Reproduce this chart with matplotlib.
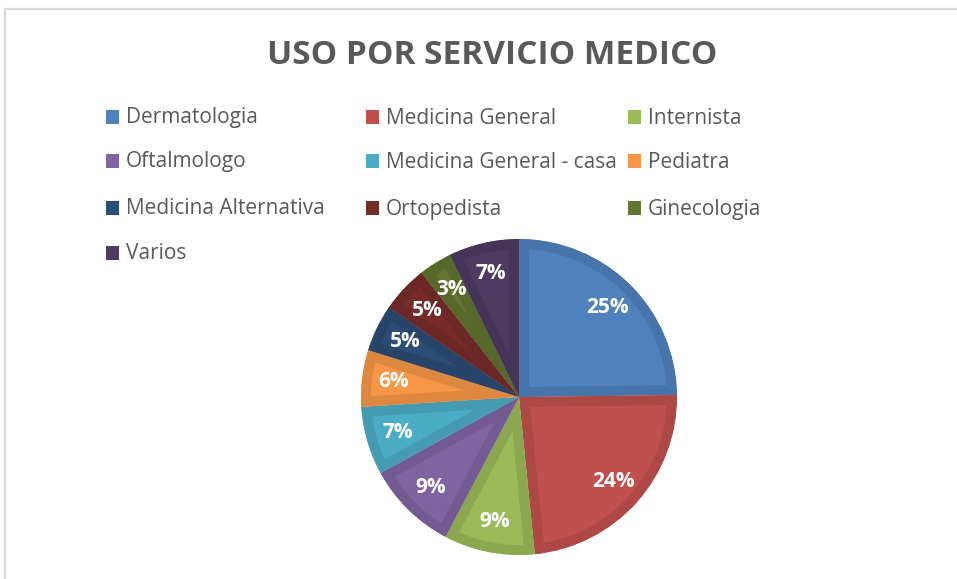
import matplotlib
matplotlib.use('Agg')
import matplotlib.pyplot as plt
from matplotlib.patches import Rectangle
from matplotlib.colors import to_rgb

# datos (porcentaje aproximado por servicio)
servicios = ['Dermatologia', 'Medicina General', 'Internista',
             'Oftalmologo', 'Medicina General - casa', 'Pediatra',
             'Medicina Alternativa', 'Ortopedista', 'Ginecologia', 'Varios']
valores = [24.8, 23.6, 9.3, 9.3, 7.0, 5.8, 4.8, 4.8, 3.4, 7.2]
colores = ['#4F81BD', '#C0504D', '#9BBB59', '#8064A2', '#4BACC6',
           '#F79646', '#2C4D75', '#772C2A', '#5F7530', '#4D3B62']
titulo = 'USO POR SERVICIO MEDICO'

W, H, DPI = 957, 579, 100
plt.rcParams['font.family'] = ['Open Sans', 'DejaVu Sans']

fig = plt.figure(figsize=(W / DPI, H / DPI), dpi=DPI)

# marco gris del area del grafico (solo se ven el borde izq. y el superior)
fig.patches.append(Rectangle((4.5 / W, -0.1), 1.2, 1.1 - 9.5 / H,
                             transform=fig.transFigure, fill=False,
                             edgecolor='#D9D9D9', linewidth=1.6))

fig.text(492 / W, 1 - 55 / H, titulo, ha='center', va='center',
         fontsize=24, fontweight='bold', color='#595959')

# leyenda en 3 columnas con ancho fijo
col_x = [106, 366, 628]
row_y = [117, 161, 208, 253]
for i, (nombre, c) in enumerate(zip(servicios, colores)):
    x = col_x[i % 3]
    y = row_y[i // 3]
    fig.patches.append(Rectangle((x / W, 1 - (y + 6.5) / H), 13 / W, 13 / H,
                                 transform=fig.transFigure, facecolor=c,
                                 edgecolor='none'))
    fig.text((x + 20) / W, 1 - (y + 1) / H, nombre, ha='left', va='center',
             fontsize=15, color='#595959')

# pastel
cx, cy, r = 519, 397, 158
ax = fig.add_axes([(cx - r) / W, (H - cy - r) / H, 2 * r / W, 2 * r / H])
wedges, textos, pcts = ax.pie(valores, colors=colores, startangle=90,
                              counterclock=False, autopct='%.0f%%',
                              pctdistance=0.8,
                              textprops=dict(color='white', fontweight='bold',
                                             fontsize=15))
# efecto de bisel: borde interior mas oscuro
for w, c in zip(wedges, colores):
    oscuro = tuple(v * 0.9 for v in to_rgb(c))
    w.set_edgecolor(oscuro)
    w.set_linewidth(20 * 72 / DPI)
    w.set_clip_on(True)
    w.set_clip_path(w)
ax.set_xlim(-1, 1)
ax.set_ylim(-1, 1)

fig.savefig('out.png', dpi=DPI)
